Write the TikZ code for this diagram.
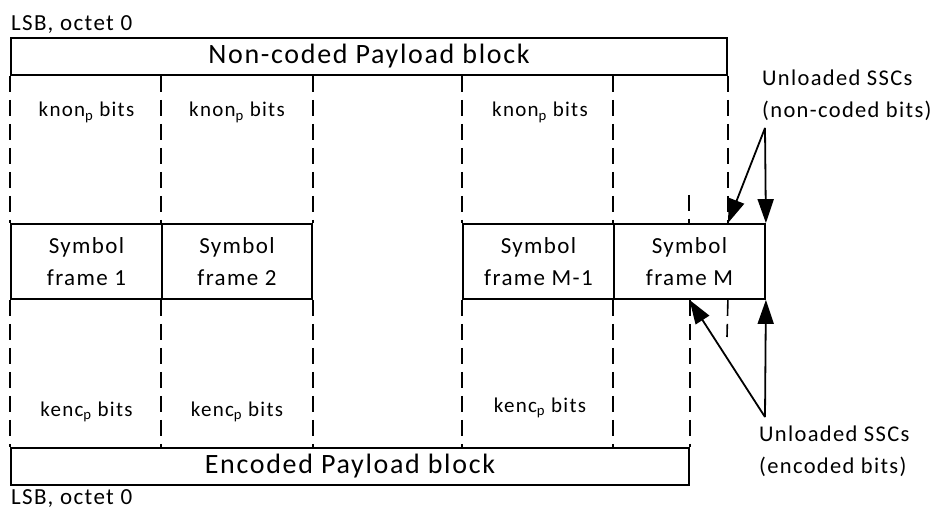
\documentclass[tikz,border=0pt]{standalone}
\usepackage{fontspec}
\setmainfont{Carlito}[LetterSpace=6]
\usetikzlibrary{arrows.meta, positioning}

\begin{document}
\begin{tikzpicture}[x=1pt, y=-1pt,
  blk/.style={draw, line width=1.8pt, minimum height=37pt, inner sep=0pt,
              font=\fontsize{28}{32}\selectfont},
  frm/.style={draw, line width=1.8pt, minimum height=75pt, inner sep=0pt,
              align=center, font=\fontsize{23}{32}\selectfont},
  bits/.style={font=\fontsize{21}{24}\selectfont, inner sep=0pt, anchor=base},
  lsb/.style={font=\fontsize{23}{26}\selectfont, inner sep=0pt, anchor=base west},
  sep/.style={line width=1.6pt, dash pattern=on 16pt off 8pt},
  ptr/.style={line width=1.8pt, -{Triangle[length=24pt, width=16pt]}},
  note/.style={align=left, anchor=north west, inner sep=0pt,
               font=\fontsize{22.5}{32}\selectfont}]
  \useasboundingbox (0,0) rectangle (939,510);

  \node[lsb] (lsbtop) at (11,31) {LSB, octet 0};
  \node[blk, minimum width=716pt] (ncb) at (369,56.5) {Non-coded Payload block};

  \node[frm, minimum width=151pt] (f1)  at (86.5,261.5)  {Symbol\\frame 1};
  \node[frm, minimum width=150pt] (f2)  at (237,261.5)   {Symbol\\frame 2};
  \node[frm, minimum width=151pt] (fm1) at (538.5,261.5) {Symbol\\frame M-1};
  \node[frm, minimum width=151pt] (fm)  at (689.5,261.5) {Symbol\\frame M};

  \node[blk, minimum width=678pt] (ecb) at (350,466.5) {Encoded Payload block};
  \node[lsb] (lsbbot) at (11,504) {LSB, octet 0};

  \node[bits] (kn1) at (86.5,117) {knon\textsubscript{p} bits};
  \node[bits] (kn2) at (237,117)  {knon\textsubscript{p} bits};
  \node[bits] (kn3) at (540,117)  {knon\textsubscript{p} bits};
  \node[bits] (ke1) at (86.5,416) {kenc\textsubscript{p} bits};
  \node[bits] (ke2) at (237,416)  {kenc\textsubscript{p} bits};
  \node[bits] (ke3) at (540,412)  {kenc\textsubscript{p} bits};

  \node[note] (untop) at (762,70)  {Unloaded SSCs\\(non-coded bits)};
  \node[note] (unbot) at (759,426) {Unloaded SSCs\\(encoded bits)};

  \coordinate (cutA) at (727,337);
  \coordinate (cutB) at (689,195);
  \coordinate (ta) at (765,128);
  \coordinate (tb) at (765,417);

  \foreach \f in {f1,f2,fm1,fm} {
    \draw[sep] (\f.north west |- ncb.south) -- (\f.north west);
    \draw[sep] (\f.south west) -- (\f.south west |- ecb.north);
  }
  \draw[sep] (f2.north east |- ncb.south) -- (f2.north east);
  \draw[sep] (f2.south east) -- (f2.south east |- ecb.north);
  \draw[sep] (ncb.south east) -- (ncb.south east |- fm.north);
  \draw[sep] (ncb.south east |- fm.south) -- (cutA);
  \draw[sep] (cutB) -- (cutB |- fm.north);
  \draw[sep] (ecb.north east |- fm.south) -- (ecb.north east);

  \draw[ptr] (ta) -- (ncb.east |- fm.north);
  \draw[ptr] (ta) -- (fm.north east);
  \draw[ptr] (tb) -- (fm.south);
  \draw[ptr] (tb) -- (fm.south east);
\end{tikzpicture}
\end{document}
